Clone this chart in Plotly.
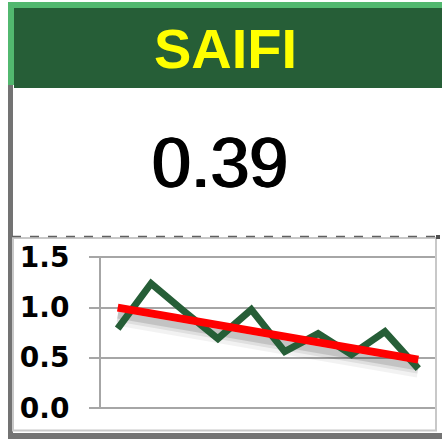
import plotly.graph_objects as go

# ---- data ----
title_text = "SAIFI"
current_value = "0.39"
periods = list(range(1, 11))
saifi_values = [0.79, 1.24, 0.96, 0.69, 0.98, 0.56, 0.74, 0.53, 0.76, 0.39]
trend_periods = [1, 10]
trend_values = [1.00, 0.48]
y_ticks = [0.0, 0.5, 1.0, 1.5]
y_tick_labels = ["0.0", "0.5", "1.0", "1.5"]

W, H = 442, 440
def px(x):
    return x / W
def py(y):
    return 1 - y / H

fig = go.Figure()

# soft shadow of the trend line
shadow_offsets = [(0.09, 18, "rgba(0,0,0,0.05)"), (0.08, 12, "rgba(0,0,0,0.08)"),
                  (0.075, 7, "rgba(0,0,0,0.12)")]
for off, w, c in shadow_offsets:
    fig.add_trace(go.Scatter(x=trend_periods, y=[v - off for v in trend_values], mode="lines",
                             line=dict(color=c, width=w), hoverinfo="skip", showlegend=False))

fig.add_trace(go.Scatter(x=periods, y=saifi_values, mode="lines",
                         line=dict(color="#265e37", width=7), showlegend=False))
fig.add_trace(go.Scatter(x=trend_periods, y=trend_values, mode="lines",
                         line=dict(color="#ff0000", width=8), showlegend=False))

shapes = [
    dict(type="rect", xref="paper", yref="paper", x0=px(8), x1=px(442), y0=py(8), y1=py(2),
         fillcolor="#52b86f", line=dict(width=0), layer="below"),
    dict(type="rect", xref="paper", yref="paper", x0=px(8), x1=px(14), y0=py(85), y1=py(2),
         fillcolor="#52b86f", line=dict(width=0), layer="below"),
    dict(type="rect", xref="paper", yref="paper", x0=px(14), x1=px(442), y0=py(88), y1=py(8),
         fillcolor="#265e37", line=dict(width=0), layer="below"),
    dict(type="rect", xref="paper", yref="paper", x0=px(8), x1=px(13), y0=py(439), y1=py(85),
         fillcolor="#737373", line=dict(width=0), layer="below"),
    dict(type="rect", xref="paper", yref="paper", x0=px(8), x1=px(442), y0=py(439), y1=py(433),
         fillcolor="#737373", line=dict(width=0), layer="below"),
    dict(type="rect", xref="paper", yref="paper", x0=px(13), x1=px(436), y0=py(430.5), y1=py(238),
         fillcolor="rgba(0,0,0,0)", line=dict(color="#c8c8c8", width=2), layer="below"),
    dict(type="line", xref="paper", yref="paper", x0=px(12), x1=px(437), y0=py(236.5), y1=py(236.5),
         line=dict(color="#606060", width=1.5, dash="dash")),
    dict(type="rect", xref="paper", yref="paper", x0=px(436), x1=px(440), y0=py(239), y1=py(235),
         fillcolor="#505050", line=dict(width=0)),
]

annotations = [
    dict(text=f"<b>{title_text}</b>", x=px(226), y=py(48), xref="paper", yref="paper",
         showarrow=False, xanchor="center", yanchor="middle",
         font=dict(family="Liberation Sans, Arial", size=56, color="#ffff00")),
    dict(text=current_value, x=px(220), y=py(163), xref="paper", yref="paper",
         showarrow=False, xanchor="center", yanchor="middle",
         font=dict(family="Liberation Sans, Arial", size=70, color="#000000",
                   shadow="1px 0 0 #000, -1px 0 0 #000")),
]

# y range padded slightly so edge gridlines are drawn; domain set so 0 and 1.5 land on target rows
pad = 0.015
y0_px, y15_px = 407.7, 257.5
ppu = (y0_px - y15_px) / 1.5

fig.update_layout(
    template="none",
    autosize=False,
    width=W, height=H,
    margin=dict(l=0, r=0, t=0, b=0, pad=0, autoexpand=False),
    paper_bgcolor="white", plot_bgcolor="white",
    showlegend=False,
    shapes=shapes, annotations=annotations,
    xaxis=dict(domain=[px(101), px(435)], range=[0.5, 10.5], automargin=False,
               showticklabels=False, showgrid=False, zeroline=False, showline=False, ticks=""),
    yaxis=dict(domain=[py(y0_px + pad * ppu), py(y15_px - pad * ppu)], range=[-pad, 1.5 + pad],
               automargin=False,
               tickvals=y_ticks, ticktext=y_tick_labels,
               showgrid=True, gridcolor="#a6a6a6", gridwidth=2, zeroline=False,
               showline=True, linecolor="#a6a6a6", linewidth=2,
               ticks="outside", ticklen=10, tickcolor="#a6a6a6", tickwidth=2,
               ticklabelstandoff=14,
               tickfont=dict(family="DejaVu Sans", size=28, color="#000000", weight="bold")),
)

fig.write_html("out.html", config={"displayModeBar": False},
               post_script="document.body.style.margin='0';document.body.style.overflow='hidden';")
